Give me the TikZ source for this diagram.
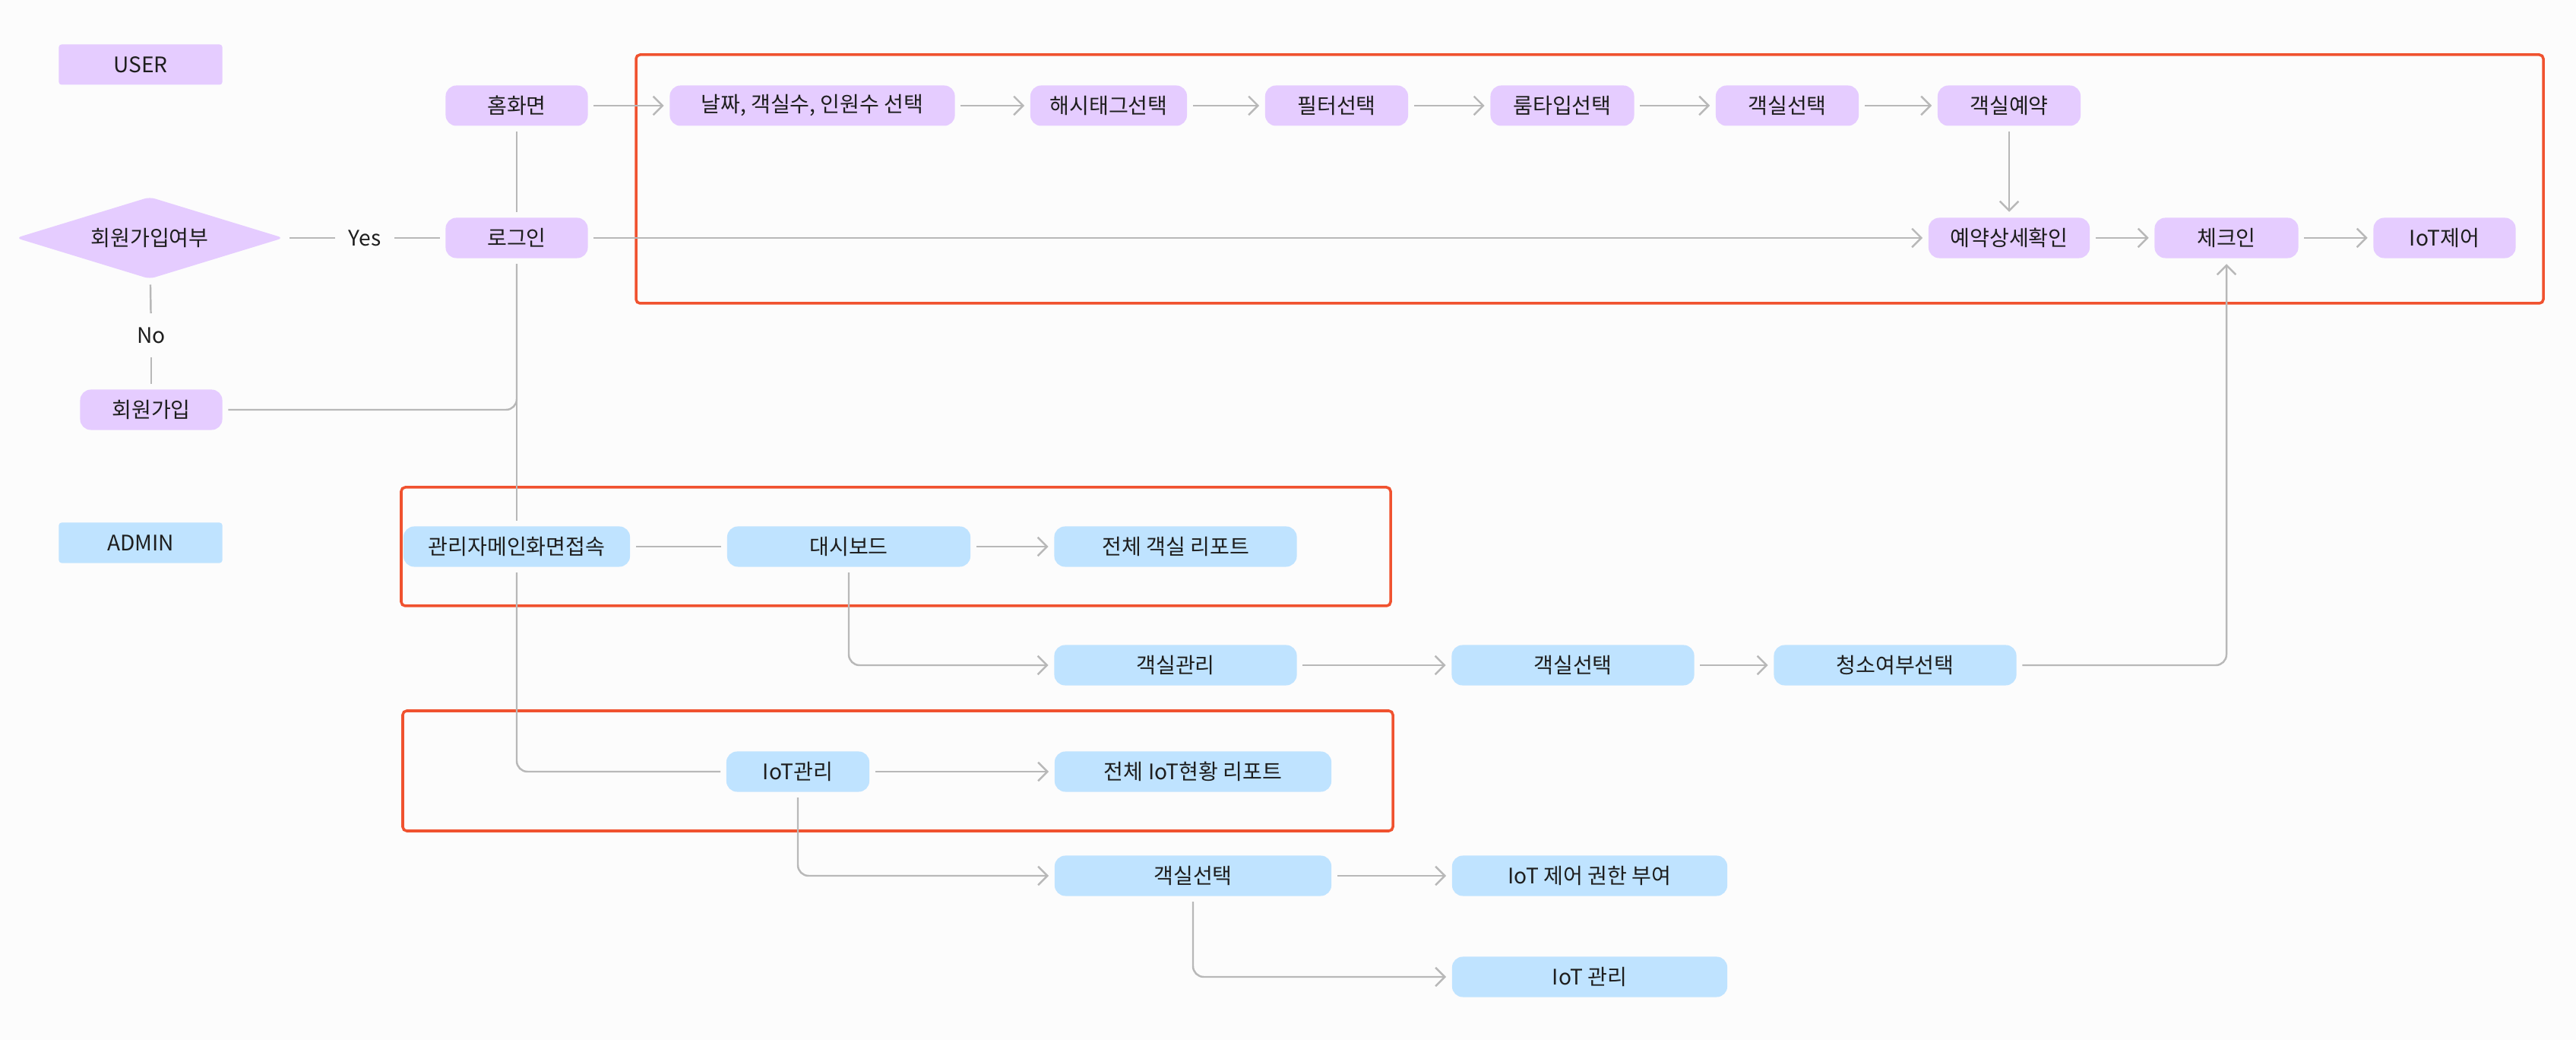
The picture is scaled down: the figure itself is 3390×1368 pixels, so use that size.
\documentclass[tikz,border=0pt]{standalone}
\usepackage{fontspec}
\setmainfont{Noto Sans CJK KR}
\usetikzlibrary{shapes.geometric, arrows.meta}
\definecolor{lilac}{HTML}{E5CCFF}
\definecolor{sky}{HTML}{BFE3FF}
\definecolor{frame}{HTML}{F0522F}
\definecolor{linegrey}{HTML}{B8B8B8}
\definecolor{ink}{HTML}{1E1E1E}
\definecolor{paper}{HTML}{FCFCFC}

\begin{document}
\begin{tikzpicture}[x = 0.01cm, y = -0.01cm, font = \fontsize{8}{10}\selectfont, text = ink,
  box/.style = {rounded corners = 4pt, minimum height = 0.53cm, inner sep = 0pt},
  user/.style = {box, fill = lilac},
  admin/.style = {box, fill = sky},
  lane/.style = {minimum width = 2.15cm, minimum height = 0.53cm, rounded corners = 1pt},
  tag/.style = {inner sep = 3pt},
  wire/.style = {draw = linegrey, line width = 0.7pt, shorten < = 2pt, shorten > = 2pt},
  flow/.style = {wire, -{Straight Barb[length = 3.5pt, width = 7pt]}},
  group/.style = {draw = frame, line width = 1pt, rounded corners = 1.5pt}]
  \useasboundingbox[fill = paper] (0, 0) rectangle (3390, 1368);

  \node[lane, fill = lilac] (userlane) at (185, 85) {USER};
  \node[lane, fill = sky] (adminlane) at (185, 714) {ADMIN};

  \draw[group] (837, 72) rectangle (3347, 399);
  \draw[group] (528, 641) rectangle (1830, 797);
  \draw[group] (530, 935) rectangle (1833, 1093);

  \node[user, minimum width = 1.87cm] (home) at (680, 139) {홈화면};
  \node[user, minimum width = 1.87cm] (login) at (680, 313) {로그인};
  \node[diamond, fill = lilac, aspect = 3.3, inner sep = 0pt, rounded corners = 2pt,
    minimum width = 3.52cm, minimum height = 1.08cm] (member) at (197, 313) {회원가입여부};
  \node[user, minimum width = 1.87cm] (signup) at (199, 539) {회원가입};
  \node[tag] (yes) at (480, 313) {Yes};
  \node[tag] (no) at (199, 441) {No};

  \node[user, minimum width = 3.75cm] (date) at (1069, 139) {날짜, 객실수, 인원수 선택};
  \node[user, minimum width = 2.06cm] (hashtag) at (1459, 139) {해시태그선택};
  \node[user, minimum width = 1.88cm] (filter) at (1759, 139) {필터선택};
  \node[user, minimum width = 1.89cm] (roomtype) at (2056, 139) {룸타입선택};
  \node[user, minimum width = 1.88cm] (roompick) at (2352, 139) {객실선택};
  \node[user, minimum width = 1.88cm] (reserve) at (2644, 139) {객실예약};
  \node[user, minimum width = 2.12cm] (detail) at (2644, 313) {예약상세확인};
  \node[user, minimum width = 1.89cm] (checkin) at (2930, 313) {체크인};
  \node[user, minimum width = 1.87cm] (iotctl) at (3217, 313) {IoT제어};

  \node[admin, minimum width = 2.98cm] (main) at (680, 719) {관리자메인화면접속};
  \node[admin, minimum width = 3.2cm] (dash) at (1117, 719) {대시보드};
  \node[admin, minimum width = 3.19cm] (report) at (1547, 719) {전체 객실 리포트};
  \node[admin, minimum width = 3.19cm] (roommgmt) at (1547, 875) {객실관리};
  \node[admin, minimum width = 3.19cm] (adminpick) at (2070, 875) {객실선택};
  \node[admin, minimum width = 3.19cm] (clean) at (2494, 875) {청소여부선택};
  \node[admin, minimum width = 1.88cm] (iotmgmt) at (1050, 1015) {IoT관리};
  \node[admin, minimum width = 3.64cm] (iotreport) at (1570, 1015) {전체 IoT현황 리포트};
  \node[admin, minimum width = 3.64cm] (iotpick) at (1570, 1152) {객실선택};
  \node[admin, minimum width = 3.62cm] (grant) at (2092, 1152) {IoT 제어 권한 부여};
  \node[admin, minimum width = 3.62cm] (iotman) at (2092, 1285) {IoT 관리};

  \foreach \a/\b in {home/date, date/hashtag, hashtag/filter, filter/roomtype,
    roomtype/roompick, roompick/reserve, reserve/detail, login/detail,
    detail/checkin, checkin/iotctl, dash/report, roommgmt/adminpick,
    adminpick/clean, iotmgmt/iotreport, iotpick/grant}
    \draw[flow] (\a) -- (\b);
  \draw[wire] (home) -- (login);
  \draw[wire] (member) -- (yes);
  \draw[wire] (yes) -- (login);
  \draw[wire] (member) -- (no);
  \draw[wire] (no) -- (signup);
  \draw[wire, rounded corners = 4pt] (signup) -| (login);
  \draw[wire] (login) -- (main);
  \draw[wire] (main) -- (dash);
  \draw[wire, rounded corners = 4pt] (main) |- (iotmgmt);
  \draw[flow, rounded corners = 4pt] (dash) |- (roommgmt);
  \draw[flow, rounded corners = 4pt] (clean) -| (checkin);
  \draw[flow, rounded corners = 4pt] (iotmgmt) |- (iotpick);
  \draw[flow, rounded corners = 4pt] (iotpick) |- (iotman);
\end{tikzpicture}
\end{document}
